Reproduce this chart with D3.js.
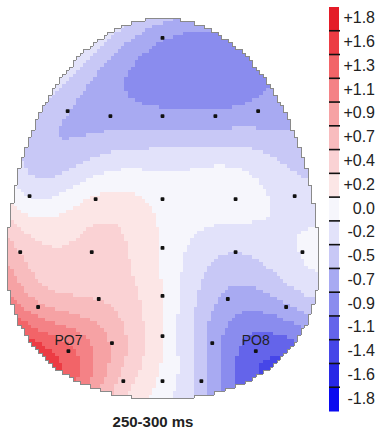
<!DOCTYPE html>
<html>
<head>
<meta charset="utf-8">
<script src="https://cdn.jsdelivr.net/npm/d3@7"></script>
<style>
  body { margin: 0; background: #fff; }
  svg { display: block; font-family: "Liberation Sans", Arial, Helvetica, sans-serif; }
</style>
</head>
<body>
<svg id="chart" width="385" height="433"></svg>
<script>
// Electrode montage, head-normalised coordinates (x: -1 left .. 1 right, y: -1 top .. 1 bottom)
const electrodes = ["Fpz",
  "F7", "F3", "Fz", "F4", "F8",
  "FT7", "FC3", "FCz", "FC4", "FT8",
  "T7", "C3", "Cz", "C4", "T8",
  "P7", "P3", "Pz", "P4", "P8",
  "PO7", "PO3", "POz", "PO4", "PO8",
  "O1", "Oz", "O2"];
const posX = [0,
  -0.61, -0.335, 0, 0.34, 0.615,
  -0.855, -0.43, 0, 0.47, 0.85,
  -0.915, -0.455, 0, 0.47, 0.9,
  -0.8, -0.41, 0, 0.42, 0.795,
  -0.605, -0.325, 0, 0.32, 0.6,
  -0.252, 0, 0.25];
const posY = [-0.895,
  -0.51, -0.484, -0.484, -0.484, -0.51,
  -0.063, -0.047, -0.047, -0.047, -0.063,
  0.232, 0.232, 0.21, 0.232, 0.232,
  0.521, 0.479, 0.463, 0.479, 0.521,
  0.753, 0.711, 0.674, 0.711, 0.753,
  0.911, 0.911, 0.911];
// Mean amplitude in the 250-300 ms window (µV)
const amplitude = [-0.75,
  -0.55, -0.66, -0.7, -0.71, -0.7,
  -0.12, 0.15, 0.04, 0.0, -0.22,
  0.55, 0.4, 0.08, -0.33, -0.1,
  0.85, 0.55, 0.1, -0.62, -0.6,
  1.3, 0.75, 0.1, -0.65, -1.15,
  0.48, 0.05, -0.45];
const labelledSites = ["PO7", "PO8"];

// Colour levels, top (positive) to bottom (negative)
const levelLabels = ["+1.8", "+1.6", "+1.3", "+1.1", "+0.9", "+0.7", "+0.4", "+0.2", "0.0",
  "-0.2", "-0.5", "-0.7", "-0.9", "-1.1", "-1.4", "-1.6", "-1.8"];
const levelColors = ["#e41c28", "#ec3c44", "#f26468", "#f48286", "#f6a2a4", "#f8bcbe", "#fad2d4", "#fce6e6", "#f6f6fc",
  "#e2e2fa", "#c8c8f6", "#a8aaf2", "#8a8cee", "#6464ea", "#4646e8", "#2828e6", "#0a0af0"];
const levelRange = [-1.9, 1.9];
const timeWindow = "250-300 ms";

const svg = d3.select("#chart");

// Scalp placement
const x = d3.scaleLinear().domain([-1, 1]).range([7, 318]);
const y = d3.scaleLinear().domain([-1, 1]).range([18, 398]);
const color = d3.scaleQuantize().domain(levelRange).range(levelColors.slice().reverse());

// Egg-shaped scalp outline: elliptical crown, flatter superelliptic base
const waistY = 0.3;
function insideHead(nx, ny) {
  if (ny < waistY) {
    const t = (ny - waistY) / 1.3;
    return nx * nx + t * t <= 1;
  }
  const t = (ny - waistY) / 0.7;
  return Math.pow(Math.abs(nx), 2.2) + Math.pow(Math.abs(t), 2.2) <= 1;
}

// Spherical-spline interpolation (Perrin et al.), sites projected onto a unit sphere
const splineOrder = 4, legendreTerms = 15, quarterArc = 225;
function toSphere(nx, ny) {
  const dx = x(nx) - x(0), dy = y(ny) - y(0.12);
  const polar = Math.hypot(dx, dy) / quarterArc * Math.PI / 2;
  const az = Math.atan2(dy, dx);
  return [Math.sin(polar) * Math.cos(az), Math.sin(polar) * Math.sin(az), Math.cos(polar)];
}
function g(c) {
  let p0 = 1, p1 = c, s = 0;
  for (let n = 1; n <= legendreTerms; n++) {
    if (n > 1) { const p2 = ((2 * n - 1) * c * p1 - (n - 1) * p0) / n; p0 = p1; p1 = p2; }
    s += (2 * n + 1) / Math.pow(n * (n + 1), splineOrder) * p1;
  }
  return s / (4 * Math.PI);
}
function sphericalSpline(pts, v) {
  const n = pts.length, N = n + 1;
  const dot = (a, b) => Math.max(-1, Math.min(1, a[0] * b[0] + a[1] * b[1] + a[2] * b[2]));
  const A = Array.from({length: N}, () => new Float64Array(N + 1));
  for (let i = 0; i < n; i++) {
    for (let j = 0; j < n; j++) A[i][j] = g(dot(pts[i], pts[j]));
    A[i][n] = 1; A[n][i] = 1; A[i][N] = v[i];
  }
  for (let c = 0; c < N; c++) {
    let p = c;
    for (let r = c + 1; r < N; r++) if (Math.abs(A[r][c]) > Math.abs(A[p][c])) p = r;
    [A[c], A[p]] = [A[p], A[c]];
    for (let r = 0; r < N; r++) {
      if (r === c) continue;
      const f = A[r][c] / A[c][c];
      if (f === 0) continue;
      for (let k = c; k <= N; k++) A[r][k] -= f * A[c][k];
    }
  }
  const w = A.map((row, i) => row[N] / row[i]);
  return q => {
    let s = w[n];
    for (let i = 0; i < n; i++) s += w[i] * g(dot(q, pts[i]));
    return s;
  };
}

const sitePts = posX.map((d, i) => toSphere(d, posY[i]));
const field = sphericalSpline(sitePts, amplitude);

// Raster of cells over the scalp
const cols = 90, rows = 109;
const colEdge = d3.range(cols + 1).map(i => Math.round(x(-1 + 2 * i / cols)));
const rowEdge = d3.range(rows + 1).map(j => Math.round(y(-1 + 2 * j / rows)));
const inside = [], cellColor = [];
for (let j = 0; j < rows; j++) {
  inside.push([]); cellColor.push([]);
  const ny = -1 + 2 * (j + 0.5) / rows;
  for (let i = 0; i < cols; i++) {
    const nx = -1 + 2 * (i + 0.5) / cols;
    const inH = insideHead(nx, ny);
    inside[j].push(inH);
    cellColor[j].push(inH ? color(field(toSphere(nx, ny))) : null);
  }
}

// Merge equal-coloured runs within each row
const runs = [];
for (let j = 0; j < rows; j++) {
  let i = 0;
  while (i < cols) {
    if (!inside[j][i]) { i++; continue; }
    let k = i;
    while (k + 1 < cols && inside[j][k + 1] && cellColor[j][k + 1] === cellColor[j][i]) k++;
    runs.push({x0: colEdge[i], x1: colEdge[k + 1], y0: rowEdge[j], y1: rowEdge[j + 1], c: cellColor[j][i]});
    i = k + 1;
  }
}

const map = svg.append("g").attr("class", "scalp");
map.selectAll("rect")
  .data(runs)
  .join("rect")
  .attr("x", d => d.x0)
  .attr("y", d => d.y0)
  .attr("width", d => d.x1 - d.x0)
  .attr("height", d => d.y1 - d.y0)
  .attr("fill", d => d.c)
  .attr("shape-rendering", "crispEdges");

// Stepped scalp border
const isIn = (j, i) => j >= 0 && j < rows && i >= 0 && i < cols && inside[j][i];
const border = d3.path();
for (let j = 0; j < rows; j++) for (let i = 0; i < cols; i++) {
  if (!inside[j][i]) continue;
  const x0 = colEdge[i], x1 = colEdge[i + 1], y0 = rowEdge[j], y1 = rowEdge[j + 1];
  if (!isIn(j - 1, i)) { border.moveTo(x0, y0); border.lineTo(x1, y0); }
  if (!isIn(j + 1, i)) { border.moveTo(x0, y1); border.lineTo(x1, y1); }
  if (!isIn(j, i - 1)) { border.moveTo(x0, y0); border.lineTo(x0, y1); }
  if (!isIn(j, i + 1)) { border.moveTo(x1, y0); border.lineTo(x1, y1); }
}
map.append("path")
  .attr("d", border.toString())
  .attr("fill", "none")
  .attr("stroke", "#8a8a8a")
  .attr("stroke-width", 1)
  .attr("shape-rendering", "crispEdges");

// Electrode sites
const sites = electrodes.map((name, i) => ({name, x: posX[i], y: posY[i], v: amplitude[i]}));
map.selectAll("rect.site")
  .data(sites)
  .join("rect")
  .attr("class", "site")
  .attr("x", d => x(d.x) - 1.9)
  .attr("y", d => y(d.y) - 1.9)
  .attr("width", 3.8)
  .attr("height", 3.8)
  .attr("rx", 0.9)
  .attr("fill", "#111");

map.selectAll("text.site")
  .data(sites.filter(d => labelledSites.includes(d.name)))
  .join("text")
  .attr("class", "site")
  .attr("x", d => x(d.x))
  .attr("y", d => y(d.y) - 6)
  .attr("text-anchor", "middle")
  .attr("font-size", 14)
  .attr("fill", "#222")
  .text(d => d.name);

// Time window caption
svg.append("text")
  .attr("x", 153)
  .attr("y", 427)
  .attr("text-anchor", "middle")
  .attr("font-size", 15)
  .attr("font-weight", "bold")
  .attr("fill", "#222")
  .text(timeWindow);

// Colour bar
const band = d3.scaleBand().domain(levelLabels).range([7, 411]);
const bar = svg.append("g").attr("class", "colorbar");
bar.selectAll("rect")
  .data(levelLabels)
  .join("rect")
  .attr("x", 329)
  .attr("y", d => band(d))
  .attr("width", 10)
  .attr("height", band.bandwidth() + 0.5)
  .attr("fill", (d, i) => levelColors[i]);
bar.selectAll("line")
  .data(levelLabels.slice(1))
  .join("line")
  .attr("x1", 329)
  .attr("x2", 340)
  .attr("y1", d => band(d))
  .attr("y2", d => band(d))
  .attr("stroke", "#111")
  .attr("stroke-width", 1.6);
bar.selectAll("text")
  .data(levelLabels)
  .join("text")
  .attr("x", 375)
  .attr("y", d => band(d) + band.bandwidth() / 2 + 4.5)
  .attr("text-anchor", "end")
  .attr("font-size", 16)
  .attr("fill", "#222")
  .text(d => d);
</script>
</body>
</html>
